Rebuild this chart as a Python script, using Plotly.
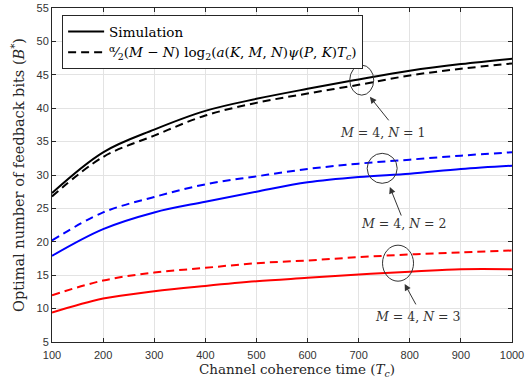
import plotly.graph_objects as go

tc = [100, 200, 300, 400, 500, 600, 700, 800, 900, 1000]
sim_n1 = [27.3, 33.4, 36.8, 39.6, 41.4, 42.9, 44.3, 45.6, 46.6, 47.4]
ana_n1 = [26.8, 32.7, 35.9, 38.9, 40.8, 42.2, 43.5, 44.9, 45.9, 46.7]
sim_n2 = [17.9, 21.9, 24.4, 26.0, 27.5, 28.9, 29.7, 30.2, 30.9, 31.4]
ana_n2 = [20.2, 24.4, 26.7, 28.6, 29.8, 30.9, 31.7, 32.3, 32.9, 33.4]
sim_n3 = [9.4, 11.5, 12.6, 13.4, 14.1, 14.6, 15.1, 15.5, 15.9, 15.9]
ana_n3 = [12.0, 14.2, 15.4, 16.1, 16.8, 17.2, 17.7, 18.1, 18.4, 18.7]

labels = ["<i>M</i> = 4, <i>N</i> = 1", "<i>M</i> = 4, <i>N</i> = 2", "<i>M</i> = 4, <i>N</i> = 3"]
circle_x = [706, 746, 777]
circle_y = [44.2, 31.0, 16.8]
arrow_x = [722, 761, 790]
arrow_y = [41.7, 28.2, 13.7]
label_x = [747, 787, 816]
label_y = [36.4, 22.7, 8.85]

leg2 = ("<sup>α</sup>⁄<sub>2</sub>(<i>M</i> − <i>N</i>) log<sub>2</sub>(<i>a</i>(<i>K</i>, <i>M</i>, <i>N</i>)"
        "<i>ψ</i>(<i>P</i>, <i>K</i>)<i>T<sub>c</sub></i>)")

fig = go.Figure()
series = [
    (sim_n1, "black", "solid", "Simulation", True),
    (ana_n1, "black", "8px,5px", leg2, True),
    (sim_n2, "#0000ff", "solid", "", False),
    (ana_n2, "#0000ff", "8px,5px", "", False),
    (sim_n3, "#ff0000", "solid", "", False),
    (ana_n3, "#ff0000", "8px,5px", "", False),
]
for ys, col, dash, name, sl in series:
    fig.add_trace(go.Scatter(x=tc, y=ys, mode="lines", name=name, showlegend=sl,
                             line=dict(color=col, width=2, dash=dash, shape="spline")))

shapes = []
annots = []
for i in range(3):
    rx = [12, 15, 15.5][i]
    ry = [15, 15, 18][i]
    shapes.append(dict(type="circle", xref="x", yref="y", xsizemode="pixel", ysizemode="pixel",
                       xanchor=circle_x[i], yanchor=circle_y[i], x0=-rx, x1=rx, y0=-ry, y1=ry,
                       line=dict(color="#333333", width=1)))
    annots.append(dict(x=arrow_x[i], y=arrow_y[i], xref="x", yref="y", text="", showarrow=True,
                       ax=[20, 12, 12][i], ay=[25, 30, 22][i], arrowhead=2, arrowsize=1.3,
                       arrowwidth=1, arrowcolor="#333333"))
    annots.append(dict(x=label_x[i], y=label_y[i], xref="x", yref="y", text=labels[i], showarrow=False,
                       font=dict(family="DejaVu Serif", size=12.5, color="#333333")))

annots.append(dict(x=0.5, y=-0.084, xref="paper", yref="paper", xanchor="center", yanchor="middle",
                   xshift=15, text="Channel coherence time (<i>T<sub>c</sub></i>)", showarrow=False,
                   font=dict(family="DejaVu Serif", size=13.5, color="#262626")))

axis_common = dict(showgrid=True, gridcolor="#e3e3e3", gridwidth=1, zeroline=False,
                   showline=True, linecolor="#262626", linewidth=1, mirror="ticks",
                   ticks="inside", ticklen=4, tickcolor="#262626", automargin=False,
                   tickfont=dict(family="Liberation Sans", size=11, color="#333333"))

fig.update_layout(
    width=528, height=383,
    margin=dict(l=52, r=16, t=8, b=41),
    paper_bgcolor="white", plot_bgcolor="white",
    shapes=shapes, annotations=annots,
    xaxis=dict(range=[100, 1000], dtick=100, tick0=100, ticklabelstandoff=3, **axis_common),
    yaxis=dict(range=[5, 55], dtick=5, tick0=5,
               title=dict(text="Optimal number of feedback bits (<i>B</i><sup>*</sup>)", standoff=8,
                          font=dict(family="DejaVu Serif", size=14.5, color="#262626")),
               **axis_common),
    legend=dict(x=0.022, y=0.978, xanchor="left", yanchor="top", bgcolor="white",
                bordercolor="#262626", borderwidth=1, itemwidth=36, tracegroupgap=0,
                font=dict(family="DejaVu Serif", size=13.5, color="black")),
    showlegend=True,
)

fig.write_html("out.html", config={"displayModeBar": False},
               post_script="document.body.style.margin='0';")
